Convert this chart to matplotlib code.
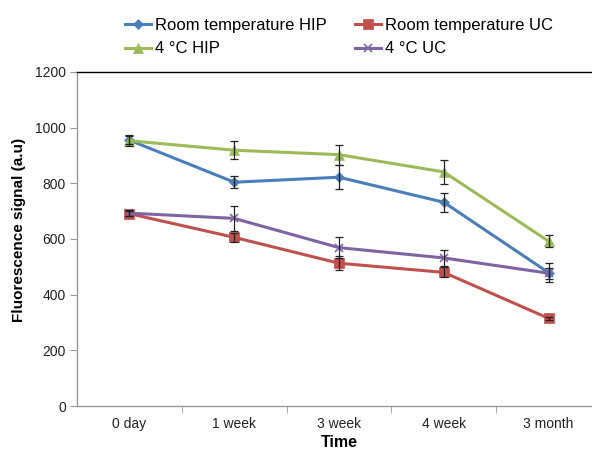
import matplotlib
matplotlib.use("Agg")
import matplotlib.pyplot as plt

plt.rcParams['font.family'] = ['Liberation Sans', 'DejaVu Sans']

categories = ["0 day", "1 week", "3 week", "4 week", "3 month"]
series_names = ["Room temperature HIP", "Room temperature UC", "4 °C HIP", "4 °C UC"]

rt_hip = [955, 804, 822, 732, 479]
rt_uc = [691, 606, 513, 480, 315]
c4_hip = [953, 919, 903, 841, 592]
c4_uc = [693, 674, 569, 532, 477]

rt_hip_err = [15, 21, 43, 34, 35]
rt_uc_err = [10, 15, 26, 18, 5]
c4_hip_err = [20, 32, 36, 42, 22]
c4_uc_err = [10, 46, 37, 28, 20]

colors = ["#4A7EBB", "#C0504D", "#9BBB59", "#8064A2"]
markers = ["D", "s", "^", "x"]
msizes = [5, 7, 7, 6]

fig = plt.figure(figsize=(5.92, 4.51), dpi=100)
ax = fig.add_axes([77/592, 1-406/451, 524/592, 334/451])

x = list(range(len(categories)))
handles = {}
for name, vals, errs, c, m, ms in zip(series_names, [rt_hip, rt_uc, c4_hip, c4_uc],
                                     [rt_hip_err, rt_uc_err, c4_hip_err, c4_uc_err],
                                     colors, markers, msizes):
    ax.errorbar(x, vals, yerr=errs, fmt='none', ecolor='#222222', elinewidth=0.9,
                capsize=3, capthick=0.9, zorder=3)
    ln, = ax.plot(x, vals, color=c, marker=m, markersize=ms, linewidth=2.2,
                  markeredgewidth=1.2 if m == 'x' else 0.5, markeredgecolor=c,
                  label=name, zorder=2)
    handles[name] = ln

ax.set_xlim(-0.5, len(categories) - 0.5)
ax.set_ylim(0, 1200)
ax.set_yticks(range(0, 1201, 200))
ax.set_xticks(x)
ax.set_xticklabels(categories, fontsize=10, color='#222222')
ax.tick_params(axis='x', length=0, pad=8)
ax.set_xticks([i + 0.5 for i in range(len(categories) - 1)], minor=True)
ax.tick_params(axis='x', which='minor', length=5, color='#999999', direction='out')
ax.tick_params(axis='y', labelsize=10, length=5, color='#999999', labelcolor='#222222', pad=3)

for s in ['left', 'bottom']:
    ax.spines[s].set_color('#999999')
    ax.spines[s].set_linewidth(1.0)
ax.spines['top'].set_color('#000000')
ax.spines['top'].set_linewidth(1.0)
ax.spines['right'].set_visible(False)

ax.set_xlabel("Time", fontsize=11.5, fontweight='bold', labelpad=3)
ax.set_ylabel("Fluorescence signal (a.u)", fontsize=11, fontweight='bold', labelpad=4)
ax.yaxis.set_label_coords(-0.098, 0.527)

order = [series_names[0], series_names[2], series_names[1], series_names[3]]
fig.legend([handles[n] for n in order], order, ncol=2, loc='upper left',
           bbox_to_anchor=(118/592, 1 - 11/451), frameon=False, fontsize=12,
           handlelength=1.6, handletextpad=0.2, columnspacing=1.7,
           labelspacing=0.52, borderaxespad=0)

fig.savefig("out.png", dpi=100)
